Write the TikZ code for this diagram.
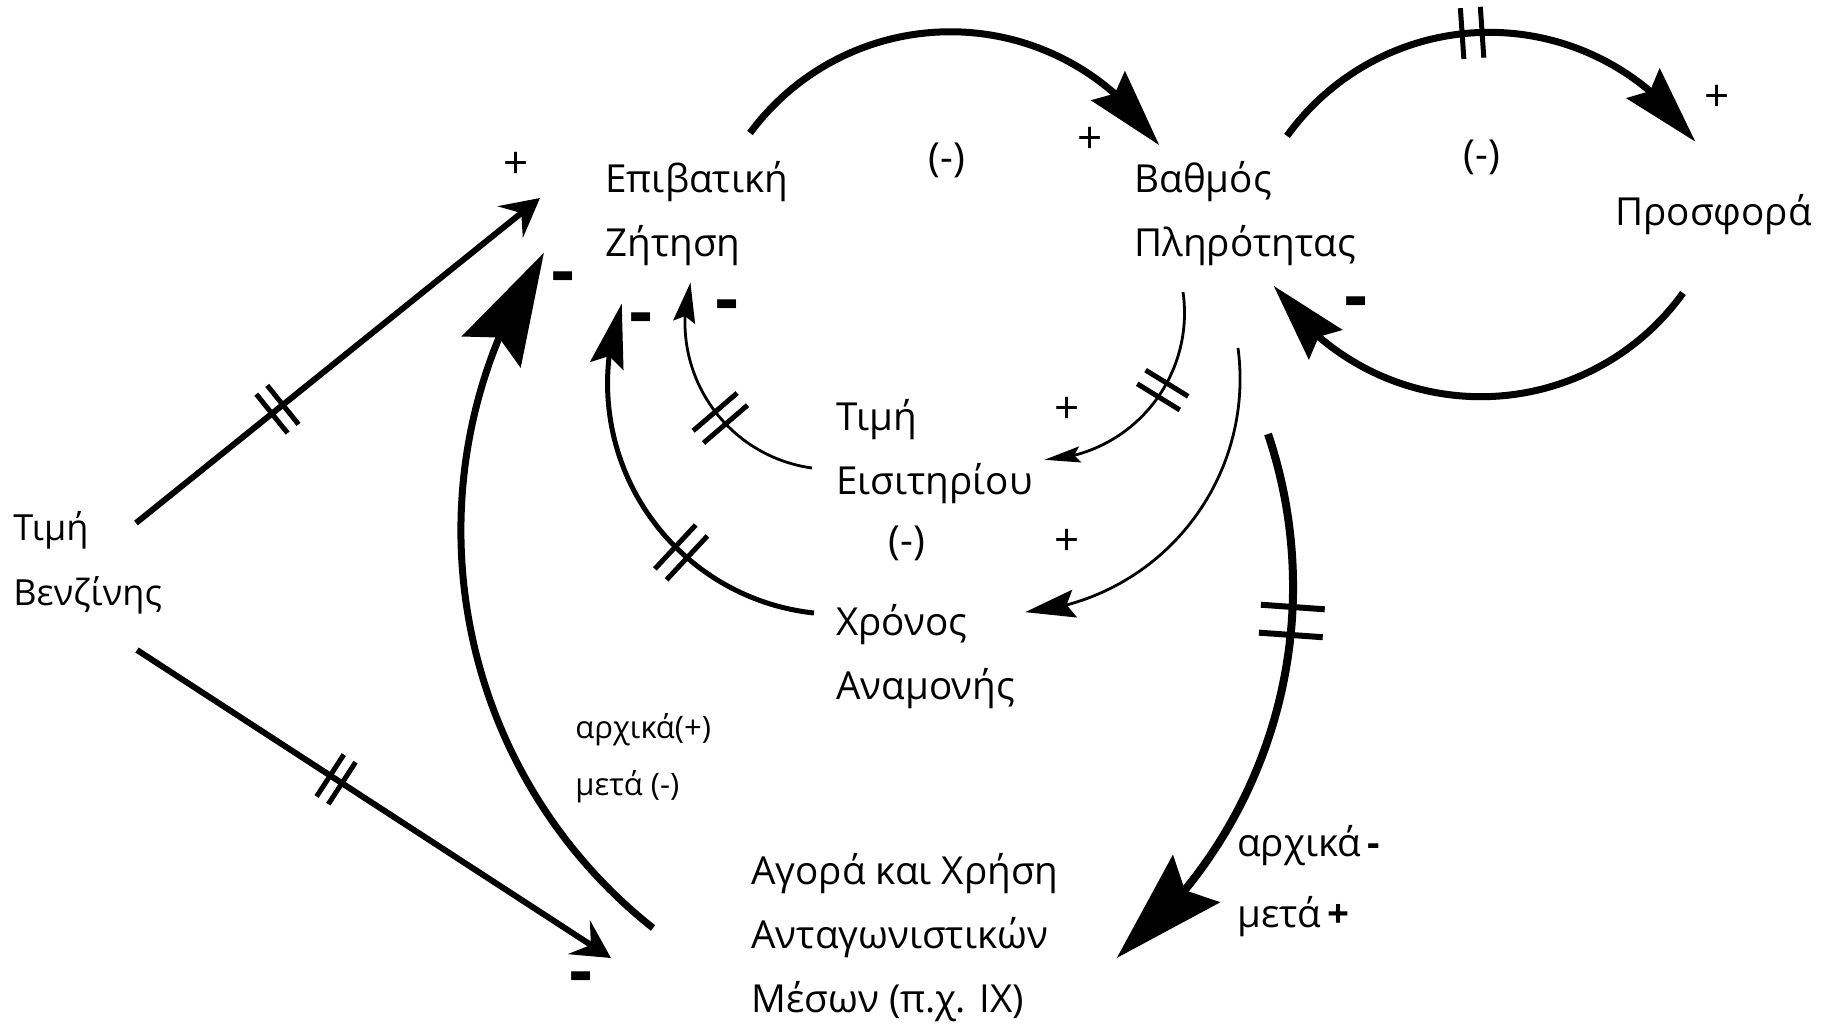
\documentclass[tikz,border=0pt]{standalone}
\usepackage{fontspec}
\setmainfont{Open Sans}
\usetikzlibrary{arrows.meta,bending,decorations.markings}
\begin{document}
\begin{tikzpicture}[x=0.5pt,y=-0.5pt,
  lbl/.style={font=\fontsize{19.3}{32}\selectfont,inner sep=0pt,anchor=base west,align=left},
  smalllbl/.style={font=\fontsize{15.5}{28.5}\selectfont,inner sep=0pt,anchor=base west,align=left},
  pol/.style={font=\fontsize{22}{22}\selectfont,inner sep=0pt},
  loopsign/.style={font=\fontsize{20}{20}\selectfont,inner sep=0pt},
  neg/.style={font=\fontsize{36}{36}\selectfont\bfseries,inner sep=0pt},
  wire/.style={line width=#1,line cap=butt},
  delaymark/.style args={#1/#2/#3/#4}{postaction={decorate,decoration={markings,
     mark=at position #1 with {\draw[-,line width=#4,line cap=butt] (-#3,-#2) -- (-#3,#2) (#3,-#2) -- (#3,#2);}}}},
  bigtip/.style={-{Stealth[length=56pt,width=33pt,inset=8pt]}},
  midtip/.style={-{Stealth[length=39pt,width=22pt,inset=5pt]}},
  medtip/.style={-{Stealth[length=32pt,width=17pt,inset=5pt]}},
  smalltip/.style={-{Stealth[length=20pt,width=11pt,inset=3pt]}},
  thintip/.style={-{Stealth[length=18pt,width=8pt,inset=3pt]}},
  thintipb/.style={-{Stealth[length=25pt,width=14pt,inset=4pt]}},
  opentip/.style={-{Stealth[length=19pt,width=20pt,inset=7pt]}}
]
\useasboundingbox (0,0) rectangle (1831,1024);
% variables (anchor = baseline of the last line)
\node[lbl] (zit) at (605,256) {Επιβατική\\Ζήτηση};
\node[lbl] (vath) at (1134,256) {Βαθμός\\Πληρότητας};
\node[lbl] (pros) at (1615,225) {Προσφορά};
\node[lbl] (tim) at (836,494) {Τιμή\\Εισιτηρίου};
\node[lbl] (xro) at (836,699) {Χρόνος\\Αναμονής};
\node[lbl, font=\fontsize{18}{32.5}\selectfont] (ben) at (13,605) {Τιμή\\Βενζίνης};
\node[lbl] (ago) at (751,1012) {Αγορά και Χρήση\\Ανταγωνιστικών\\Μέσων (π.χ. ΙΧ)};
% connector end points
\coordinate (zitOut) at (750,133);
\coordinate (vathOut1) at (1287,136);
\coordinate (prosOut) at (1683,293);
\coordinate (vathOut2) at (1268,434);
\coordinate (agoOut) at (653,928);
\coordinate (xroOut) at (814,613);
\coordinate (timOut) at (812,468);
\coordinate (vathOut3) at (1183,292);
\coordinate (vathOut4) at (1238,348);
\coordinate (benOut1) at (136,523);
\coordinate (benOut2) at (137,650);
\coordinate (zitIn) at (540,198);
\coordinate (agoIn) at (611,958);
% connectors
\draw[wire=3.5pt, midtip] (zitOut) arc[start angle=216.4,end angle=327,radius=249];
\draw[wire=3.5pt, midtip, delaymark={0.457/12.75pt/5pt/2.5pt}] (vathOut1) arc[start angle=215.7,end angle=325.9,radius=249];
\draw[wire=3.5pt, midtip] (prosOut) arc[start angle=35.7,end angle=146.3,radius=249];
\draw[wire=4pt, bigtip, delaymark={0.327/16pt/7pt/3pt}] (vathOut2) arc[start angle=-18.6,end angle=50.8,radius=479];
\draw[wire=3.5pt, bigtip] (agoOut) arc[start angle=128.4,end angle=213.25,radius=507];
\draw[wire=2.5pt, medtip, delaymark={0.354/15pt/4pt/2.5pt}] (xroOut) arc[start angle=96.1,end angle=200.2,radius=231];
\draw[wire=1.4pt, smalltip, delaymark={0.425/14.5pt/4pt/2.5pt}] (timOut) arc[start angle=97.8,end angle=195.7,radius=147];
\draw[wire=1.4pt, thintip, delaymark={0.417/12.5pt/4pt/2.5pt}] (vathOut3) arc[start angle=-8.2,end angle=87.3,radius=147];
\draw[wire=1.4pt, thintipb] (vathOut4) arc[start angle=-7.6,end angle=85.3,radius=234];
\draw[wire=3pt, opentip, delaymark={0.35/12.5pt/3.5pt/2.5pt}] (benOut1) -- (zitIn);
\draw[wire=3pt, opentip, delaymark={0.42/12.5pt/3.5pt/2.5pt}] (benOut2) -- (agoIn);
% polarities
\node[pol] (pzit) at (516,165) {+};
\node[pol] (pvath) at (1090,140) {+};
\node[pol] (ppros) at (1717,98) {+};
\node[pol] (ptim) at (1067,410) {+};
\node[pol] (pxro) at (1067,542) {+};
\node[neg] (nzit1) at (563,284) {-};
\node[neg] (nzit2) at (641,325) {-};
\node[neg] (nzit3) at (727,312) {-};
\node[neg] (nvath) at (1356,309) {-};
\node[neg] (nago) at (581,984) {-};
\node[loopsign] (loop1) at (947,160) {(-)};
\node[loopsign] (loop2) at (1482,157) {(-)};
\node[loopsign] (loop3) at (907,543) {(-)};
\node[smalllbl] (lblago) at (575,795) {αρχικά(+)\\μετά (-)};
\node[lbl, font=\fontsize{19.3}{35.5}\selectfont] (lblvath) at (1237,927) {αρχικά\,\textbf{-}\\μετά\,\textbf{+}};
\end{tikzpicture}
\end{document}
